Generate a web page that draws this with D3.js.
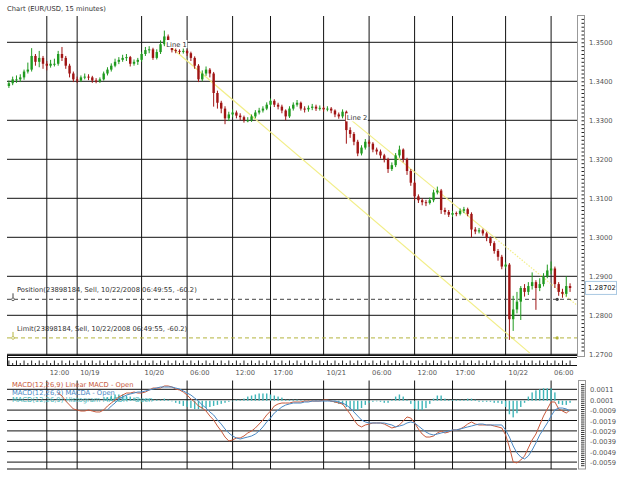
<!DOCTYPE html>
<html>
<head>
<meta charset="utf-8">
<script src="https://cdn.jsdelivr.net/npm/d3@7"></script>
<style>
  body { margin: 0; background: #fff; }
  svg text { font-family: "DejaVu Sans", Verdana, sans-serif; font-size: 6.75px; }
</style>
</head>
<body>
<svg id="chart" width="625" height="479"></svg>
<script>
// EUR/USD, one candle per 30 minutes, 10/17 .. 10/22 2008
const opens = [
  1.3388, 1.3395, 1.3405, 1.3405, 1.3410, 1.3425, 1.3430, 1.3465, 1.3450, 1.3460,
  1.3445, 1.3440, 1.3445, 1.3445, 1.3470, 1.3460, 1.3440, 1.3420, 1.3405, 1.3402,
  1.3410, 1.3412, 1.3410, 1.3402, 1.3400, 1.3405, 1.3420, 1.3430, 1.3440, 1.3450,
  1.3455, 1.3460, 1.3462, 1.3445, 1.3450, 1.3455, 1.3470, 1.3480, 1.3482, 1.3460,
  1.3475, 1.3495, 1.3515, 1.3495, 1.3480, 1.3478, 1.3476, 1.3478, 1.3472, 1.3460,
  1.3440, 1.3405, 1.3420, 1.3430, 1.3420, 1.3370, 1.3345, 1.3330, 1.3305, 1.3315,
  1.3320, 1.3312, 1.3308, 1.3300, 1.3300, 1.3310, 1.3320, 1.3325, 1.3330, 1.3340,
  1.3350, 1.3340, 1.3335, 1.3325, 1.3310, 1.3330, 1.3340, 1.3345, 1.3330, 1.3328,
  1.3332, 1.3335, 1.3330, 1.3332, 1.3328, 1.3330, 1.3325, 1.3315, 1.3310, 1.3322,
  1.3275, 1.3265, 1.3245, 1.3215, 1.3230, 1.3245, 1.3240, 1.3225, 1.3220, 1.3210,
  1.3200, 1.3175, 1.3185, 1.3210, 1.3225, 1.3200, 1.3170, 1.3140, 1.3105, 1.3095,
  1.3090, 1.3088, 1.3095, 1.3115, 1.3120, 1.3070, 1.3065, 1.3058, 1.3062, 1.3060,
  1.3068, 1.3072, 1.3060, 1.3020, 1.3015, 1.3018, 1.3010, 1.2998, 1.2985, 1.2965,
  1.2950, 1.2925, 1.2930, 1.2790, 1.2815, 1.2835, 1.2870, 1.2860, 1.2875, 1.2885,
  1.2870, 1.2880, 1.2900, 1.2915, 1.2920, 1.2880, 1.2860, 1.2855, 1.2875
];
const highs = [
  1.3402, 1.3412, 1.3415, 1.3418, 1.3430, 1.3448, 1.3485, 1.3470, 1.3478, 1.3465,
  1.3452, 1.3455, 1.3458, 1.3478, 1.3488, 1.3465, 1.3445, 1.3425, 1.3412, 1.3415,
  1.3420, 1.3418, 1.3414, 1.3408, 1.3410, 1.3425, 1.3436, 1.3446, 1.3458, 1.3462,
  1.3468, 1.3470, 1.3465, 1.3456, 1.3460, 1.3476, 1.3488, 1.3490, 1.3486, 1.3482,
  1.3505, 1.3530, 1.3520, 1.3498, 1.3484, 1.3482, 1.3484, 1.3482, 1.3476, 1.3464,
  1.3444, 1.3428, 1.3438, 1.3434, 1.3424, 1.3376, 1.3350, 1.3336, 1.3322, 1.3328,
  1.3325, 1.3318, 1.3312, 1.3308, 1.3315, 1.3326, 1.3332, 1.3336, 1.3346, 1.3356,
  1.3354, 1.3345, 1.3340, 1.3328, 1.3336, 1.3346, 1.3352, 1.3348, 1.3336, 1.3338,
  1.3342, 1.3340, 1.3338, 1.3336, 1.3336, 1.3334, 1.3328, 1.3320, 1.3328, 1.3325,
  1.3282, 1.3270, 1.3250, 1.3236, 1.3252, 1.3250, 1.3244, 1.3230, 1.3225, 1.3214,
  1.3204, 1.3192, 1.3216, 1.3235, 1.3228, 1.3204, 1.3175, 1.3145, 1.3110, 1.3100,
  1.3096, 1.3102, 1.3122, 1.3130, 1.3124, 1.3076, 1.3070, 1.3068, 1.3066, 1.3074,
  1.3078, 1.3076, 1.3064, 1.3026, 1.3024, 1.3022, 1.3014, 1.3002, 1.2990, 1.2970,
  1.2955, 1.2936, 1.2934, 1.2850, 1.2860, 1.2875, 1.2880, 1.2885, 1.2910, 1.2890,
  1.2895, 1.2908, 1.2930, 1.2938, 1.2925, 1.2885, 1.2868, 1.2900, 1.2882
];
const lows = [
  1.3383, 1.3390, 1.3396, 1.3398, 1.3404, 1.3420, 1.3425, 1.3440, 1.3436, 1.3432,
  1.3428, 1.3435, 1.3438, 1.3440, 1.3452, 1.3432, 1.3410, 1.3398, 1.3396, 1.3398,
  1.3405, 1.3403, 1.3396, 1.3395, 1.3396, 1.3402, 1.3415, 1.3425, 1.3436, 1.3444,
  1.3450, 1.3452, 1.3438, 1.3440, 1.3442, 1.3450, 1.3465, 1.3472, 1.3455, 1.3456,
  1.3470, 1.3490, 1.3488, 1.3474, 1.3472, 1.3470, 1.3471, 1.3465, 1.3452, 1.3432,
  1.3398, 1.3400, 1.3414, 1.3410, 1.3335, 1.3330, 1.3318, 1.3290, 1.3298, 1.3308,
  1.3305, 1.3300, 1.3294, 1.3295, 1.3296, 1.3305, 1.3315, 1.3320, 1.3326, 1.3335,
  1.3334, 1.3328, 1.3318, 1.3300, 1.3306, 1.3325, 1.3335, 1.3325, 1.3320, 1.3322,
  1.3326, 1.3324, 1.3325, 1.3322, 1.3323, 1.3318, 1.3308, 1.3304, 1.3305, 1.3240,
  1.3255, 1.3236, 1.3208, 1.3210, 1.3225, 1.3232, 1.3218, 1.3212, 1.3202, 1.3192,
  1.3165, 1.3170, 1.3180, 1.3204, 1.3192, 1.3160, 1.3132, 1.3095, 1.3088, 1.3082,
  1.3080, 1.3084, 1.3090, 1.3110, 1.3060, 1.3058, 1.3052, 1.3052, 1.3054, 1.3056,
  1.3062, 1.3054, 1.3000, 1.3008, 1.3010, 1.3004, 1.2990, 1.2978, 1.2958, 1.2940,
  1.2918, 1.2920, 1.2737, 1.2760, 1.2805, 1.2788, 1.2848, 1.2852, 1.2866, 1.2814,
  1.2862, 1.2874, 1.2895, 1.2905, 1.2870, 1.2850, 1.2845, 1.2848, 1.2860
];
const closes = [
  1.3395, 1.3405, 1.3405, 1.3410, 1.3425, 1.3430, 1.3465, 1.3450, 1.3460, 1.3445,
  1.3440, 1.3445, 1.3445, 1.3470, 1.3460, 1.3440, 1.3420, 1.3405, 1.3402, 1.3410,
  1.3412, 1.3410, 1.3402, 1.3400, 1.3405, 1.3420, 1.3430, 1.3440, 1.3450, 1.3455,
  1.3460, 1.3462, 1.3445, 1.3450, 1.3455, 1.3470, 1.3480, 1.3482, 1.3460, 1.3475,
  1.3495, 1.3515, 1.3495, 1.3480, 1.3478, 1.3476, 1.3478, 1.3472, 1.3460, 1.3440,
  1.3405, 1.3420, 1.3430, 1.3420, 1.3370, 1.3345, 1.3330, 1.3305, 1.3315, 1.3320,
  1.3312, 1.3308, 1.3300, 1.3300, 1.3310, 1.3320, 1.3325, 1.3330, 1.3340, 1.3350,
  1.3340, 1.3335, 1.3325, 1.3310, 1.3330, 1.3340, 1.3345, 1.3330, 1.3328, 1.3332,
  1.3335, 1.3330, 1.3332, 1.3328, 1.3330, 1.3325, 1.3315, 1.3310, 1.3322, 1.3275,
  1.3265, 1.3245, 1.3215, 1.3230, 1.3245, 1.3240, 1.3225, 1.3220, 1.3210, 1.3200,
  1.3175, 1.3185, 1.3210, 1.3225, 1.3200, 1.3170, 1.3140, 1.3105, 1.3095, 1.3090,
  1.3088, 1.3095, 1.3115, 1.3120, 1.3070, 1.3065, 1.3058, 1.3062, 1.3060, 1.3068,
  1.3072, 1.3060, 1.3020, 1.3015, 1.3018, 1.3010, 1.2998, 1.2985, 1.2965, 1.2950,
  1.2925, 1.2930, 1.2790, 1.2815, 1.2835, 1.2870, 1.2860, 1.2875, 1.2885, 1.2870,
  1.2880, 1.2900, 1.2915, 1.2920, 1.2880, 1.2860, 1.2855, 1.2875, 1.2870
];

// MACD(12,26,9): linear MACD starts at bar 13, signal and histogram at bar 26
const macdFirstBar = 13;
const macdLine = [
  0.00074, 0.00046, -0.00003, -0.00041, -0.00079, -0.00089, -0.00099, -0.00099, -0.00089, -0.00099,
  -0.00108, -0.00108, -0.00089, -0.00051, -0.00022, 0.00007, 0.00036, 0.00055, 0.00074, 0.00074,
  0.00084, 0.00074, 0.00074, 0.00084, 0.00103, 0.00122, 0.00122, 0.00122, 0.00142, 0.00142,
  0.00132, 0.00113, 0.00103, 0.00084, 0.00055, 0.00017, -0.00012, -0.00051, -0.00070, -0.00099,
  -0.00147, -0.00185, -0.00243, -0.00291, -0.00349, -0.00387, -0.00377, -0.00358, -0.00358, -0.00339,
  -0.00310, -0.00291, -0.00262, -0.00224, -0.00185, -0.00137, -0.00099, -0.00051, -0.00031, -0.00022,
  -0.00022, -0.00022, -0.00012, -0.00012, -0.00012, -0.00003, -0.00003, -0.00003, -0.00003, -0.00003,
  0.00007, 0.00007, -0.00003, -0.00012, -0.00022, -0.00031, -0.00079, -0.00127, -0.00185, -0.00233,
  -0.00252, -0.00233, -0.00224, -0.00214, -0.00214, -0.00214, -0.00224, -0.00243, -0.00262, -0.00252,
  -0.00233, -0.00195, -0.00156, -0.00166, -0.00214, -0.00272, -0.00320, -0.00349, -0.00349, -0.00339,
  -0.00310, -0.00291, -0.00310, -0.00301, -0.00281, -0.00281, -0.00272, -0.00252, -0.00224, -0.00204,
  -0.00224, -0.00233, -0.00233, -0.00233, -0.00233, -0.00243, -0.00252, -0.00262, -0.00329, -0.00445,
  -0.00589, -0.00598, -0.00570, -0.00531, -0.00454, -0.00377, -0.00320, -0.00233, -0.00147, -0.00079,
  -0.00012, -0.00012, -0.00079, -0.00099, -0.00118, -0.00089
];
const signalFirstBar = 26;
const signalLine = [
  -0.00089, -0.00051, -0.00022, 0.00017, 0.00036, 0.00055, 0.00065, 0.00074, 0.00084, 0.00084,
  0.00094, 0.00103, 0.00113, 0.00122, 0.00132, 0.00132, 0.00132, 0.00132, 0.00122, 0.00113,
  0.00094, 0.00074, 0.00055, 0.00026, -0.00003, -0.00041, -0.00070, -0.00108, -0.00137, -0.00185,
  -0.00224, -0.00272, -0.00310, -0.00339, -0.00358, -0.00368, -0.00358, -0.00349, -0.00339, -0.00320,
  -0.00291, -0.00252, -0.00204, -0.00166, -0.00118, -0.00089, -0.00060, -0.00041, -0.00031, -0.00022,
  -0.00022, -0.00022, -0.00012, -0.00012, -0.00003, -0.00003, -0.00003, -0.00003, -0.00003, -0.00003,
  -0.00003, -0.00012, -0.00022, -0.00041, -0.00070, -0.00108, -0.00147, -0.00185, -0.00204, -0.00214,
  -0.00214, -0.00214, -0.00214, -0.00214, -0.00224, -0.00233, -0.00252, -0.00243, -0.00233, -0.00214,
  -0.00204, -0.00214, -0.00243, -0.00272, -0.00301, -0.00320, -0.00329, -0.00320, -0.00310, -0.00301,
  -0.00291, -0.00281, -0.00281, -0.00272, -0.00262, -0.00252, -0.00243, -0.00233, -0.00224, -0.00224,
  -0.00233, -0.00233, -0.00233, -0.00233, -0.00233, -0.00281, -0.00349, -0.00435, -0.00502, -0.00541,
  -0.00560, -0.00531, -0.00474, -0.00406, -0.00329, -0.00272, -0.00214, -0.00147, -0.00089, -0.00070,
  -0.00070, -0.00079, -0.00099
];
const histFirstBar = 26;
const histogram = [
  0.0003, 0.0005, 0.0006, 0.0006, 0.0006, 0.0005, 0.0004, 0.0003, 0.0002, 0.0001,
  0.0002, 0.0002, 0.0001, 0.0001, 0.0001, 0.0002, 0.0001, 0, -0.0002, -0.0003,
  -0.0005, -0.0006, -0.0007, -0.0008, -0.0008, -0.0008, -0.0007, -0.0006, -0.0005, -0.0004,
  -0.0003, -0.0002, -0.0001, 0, 0.0001, 0.0001, 0.0002, 0.0004, 0.0005, 0.0006,
  0.0007, 0.0007, 0.0007, 0.0006, 0.0005, 0.0004, 0.0003, 0.0001, 0.0001, 0.0001,
  0.0001, 0.00005, 0.00005, 0.00005, 0.00005, 0.00005, 0.00005, 0.00005, 0.00005, -0.0001,
  -0.0002, -0.0003, -0.0004, -0.0006, -0.0008, -0.0009, -0.0009, -0.0007, -0.0004, -0.0002,
  -0.0001, 0, -0.0001, -0.0002, -0.0002, 0.0001, 0.0004, 0.0006, 0.0004, 0.0001,
  -0.0003, -0.0008, -0.0009, -0.0009, -0.0007, -0.0003, 0.0002, 0.0005, 0.0005, 0.0002,
  0.0001, 0.0001, 0.0001, 0.0001, 0.0001, 0.0002, 0.0002, 0.0001, -0.0001, -0.0001,
  -0.0001, -0.0001, -0.0002, -0.0002, -0.0003, -0.0006, -0.0013, -0.0016, -0.0012, -0.0006,
  -0.0002, 0.0004, 0.0008, 0.0010, 0.0011, 0.0012, 0.0012, 0.0012, 0.0008, -0.0003,
  -0.0004, -0.0004, -0.0002
];

// axis labels
const priceTicks = [1.35, 1.34, 1.33, 1.32, 1.31, 1.30, 1.29, 1.28, 1.27];
const macdTicks = [0.0011, 0.0001, -0.0009, -0.0019, -0.0029, -0.0039, -0.0049, -0.0059];
const timeLabels = ['12:00', '10/19', '10/20', '06:00', '12:00', '17:00', '10/21', '06:00', '12:00', '17:00', '10/22', '06:00'];
const timeLabelBars = [10, 18, 35, 47, 59, 69, 83, 95, 107, 117, 131, 143];

// trend lines (bar index, price): drawn segment, then dotted extension
const line1 = [{ bar: 41, price: 1.3502 }, { bar: 137.4, price: 1.2703 }];
const line2 = [{ bar: 88.6, price: 1.3314 }, { bar: 128.5, price: 1.2996 }];
const line2Ext = [{ bar: 128.5, price: 1.2996 }, { bar: 149.8, price: 1.2826 }];

// open order
const lastPrice = 1.28702;
const orderBar = 144.6;
const positionPrice = 1.2841;
const limitPrice = 1.2742;
const positionText = 'Position(23898184, Sell, 10/22/2008 06:49:55, -60.2)';
const limitText = 'Limit(23898184, Sell, 10/22/2008 06:49:55, -60.2)';

// layout
const LEFT = 7, RIGHT = 577;
const PRICE_TOP = 16, PRICE_BOTTOM = 356;
const MACD_TOP = 380.5, MACD_BOTTOM = 469;

const svg = d3.select('#chart');

const x = d3.scaleLinear().domain([35, 131]).range([141.6, 505.6]);
const yPrice = d3.scaleLinear().domain([1.27, 1.35]).range([354.3, 42.3]);
const yMacd = d3.scaleLinear().domain([-0.0059, 0.0011]).range([462.1, 389.3]);

// title
svg.append('text').attr('x', 7).attr('y', 11).attr('fill', '#333')
    .text('Chart (EUR/USD, 15 minutes)');

// price panel grid
svg.append('g').selectAll('line').data(priceTicks).join('line')
    .attr('x1', LEFT).attr('x2', RIGHT)
    .attr('y1', d => yPrice(d)).attr('y2', d => yPrice(d))
    .attr('stroke', '#111').attr('stroke-width', 1);

svg.append('g').selectAll('line').data(timeLabelBars).join('line')
    .attr('x1', d => x(d)).attr('x2', d => x(d))
    .attr('y1', PRICE_TOP).attr('y2', PRICE_BOTTOM)
    .attr('stroke', '#111').attr('stroke-width', 1);

// trend lines
const trend = d3.line().x(d => x(d.bar)).y(d => yPrice(d.price));
[[line1, null], [line2, null], [line2Ext, '1.5,1.5']].forEach(function(l) {
    svg.append('path').datum(l[0])
        .attr('d', trend)
        .attr('fill', 'none')
        .attr('stroke', '#f2ee88')
        .attr('stroke-width', 1.2)
        .attr('stroke-dasharray', l[1]);
});

// order lines
function orderLine(price, color, label) {
    const y = yPrice(price);
    svg.append('line')
        .attr('x1', LEFT).attr('x2', RIGHT).attr('y1', y).attr('y2', y)
        .attr('stroke', color).attr('stroke-width', 1)
        .attr('stroke-dasharray', '4,3');
    svg.append('line')
        .attr('x1', 13).attr('x2', 13).attr('y1', y - 6).attr('y2', y - 1.5)
        .attr('stroke', color).attr('stroke-width', 1);
    svg.append('circle').attr('cx', 13).attr('cy', y).attr('r', 1.4)
        .attr('fill', '#fff').attr('stroke', color).attr('stroke-width', 0.8);
    svg.append('circle').attr('cx', x(orderBar)).attr('cy', y).attr('r', 1.6)
        .attr('fill', color);
    svg.append('text').attr('x', 17).attr('y', y - 7).attr('fill', '#333').text(label);
}
orderLine(positionPrice, '#444', positionText);
orderLine(limitPrice, '#b4b43c', limitText);

// candles
const bars = d3.range(closes.length);
const upColor = '#1f9a1f', downColor = '#a01414';
const candles = svg.append('g');
candles.selectAll('line').data(bars).join('line')
    .attr('x1', i => x(i)).attr('x2', i => x(i))
    .attr('y1', i => yPrice(highs[i])).attr('y2', i => yPrice(lows[i]))
    .attr('stroke', i => closes[i] >= opens[i] ? upColor : downColor)
    .attr('stroke-width', 1);
candles.selectAll('rect').data(bars).join('rect')
    .attr('x', i => x(i) - 1.2)
    .attr('width', 2.4)
    .attr('y', i => yPrice(Math.max(opens[i], closes[i])))
    .attr('height', i => Math.max(1, Math.abs(yPrice(opens[i]) - yPrice(closes[i]))))
    .attr('fill', i => closes[i] >= opens[i] ? upColor : downColor);

// trend line labels
[[line1, 'Line 1'], [line2, 'Line 2']].forEach(function(p) {
    const lx = x(p[0][0].bar) + 2, ly = yPrice(p[0][0].price) + 5;
    svg.append('rect').attr('x', lx - 1).attr('y', ly - 6.5).attr('width', 22).attr('height', 8)
        .attr('fill', '#fff');
    svg.append('text').attr('x', lx).attr('y', ly).attr('fill', '#333').text(p[1]);
});

// price axis box
const priceBox = svg.append('g');
priceBox.append('rect').attr('x', 577.5).attr('y', 15.5).attr('width', 7).attr('height', 341)
    .attr('fill', '#fff').attr('stroke', '#999');
const minorPrice = d3.ticks(yPrice.invert(PRICE_BOTTOM - 2), yPrice.invert(PRICE_TOP + 2), 85);
priceBox.append('g').attr('transform', 'translate(584,0)')
    .call(d3.axisLeft(yPrice).tickValues(minorPrice).tickSize(2.5).tickFormat(''))
    .call(g => g.select('.domain').remove())
    .call(g => g.selectAll('line').attr('stroke', '#222'))
    .call(g => g.selectAll('text').remove());
priceBox.selectAll('text.pl').data(priceTicks).join('text')
    .attr('class', 'pl')
    .attr('x', 589).attr('y', d => yPrice(d) + 2.4).attr('fill', '#555')
    .text(d => d.toFixed(4));

// current price tag
const ly0 = yPrice(lastPrice);
svg.append('rect').attr('x', 585.5).attr('y', ly0 - 6.5).attr('width', 31).attr('height', 13)
    .attr('fill', '#fff').attr('stroke', '#a9c8e2');
svg.append('text').attr('x', 588).attr('y', ly0 + 2.5).attr('fill', '#111').text(lastPrice.toFixed(5));

// time strip
const strip = svg.append('g');
strip.append('line').attr('x1', LEFT).attr('x2', RIGHT).attr('y1', 355.5).attr('y2', 355.5).attr('stroke', '#111');
strip.append('line').attr('x1', LEFT).attr('x2', RIGHT).attr('y1', 357.5).attr('y2', 357.5).attr('stroke', '#111');
strip.append('line').attr('x1', LEFT).attr('x2', RIGHT).attr('y1', 365.5).attr('y2', 365.5).attr('stroke', '#111');
strip.append('line').attr('x1', 7.5).attr('x2', 7.5).attr('y1', 355.5).attr('y2', 365.5).attr('stroke', '#111');
strip.selectAll('line.tk').data(bars).join('line')
    .attr('class', 'tk')
    .attr('x1', i => x(i)).attr('x2', i => x(i))
    .attr('y1', 365.5).attr('y2', i => i % 2 === 0 ? 360.5 : 363)
    .attr('stroke', '#222');
strip.selectAll('text.tl').data(timeLabels).join('text')
    .attr('class', 'tl')
    .attr('x', (d, i) => x(timeLabelBars[i]) + 3).attr('y', 375)
    .attr('fill', '#555').text(d => d);

// MACD panel grid
svg.append('g').selectAll('line').data(macdTicks).join('line')
    .attr('x1', LEFT).attr('x2', RIGHT)
    .attr('y1', d => yMacd(d)).attr('y2', d => yMacd(d))
    .attr('stroke', '#111');
svg.append('line').attr('x1', LEFT).attr('x2', RIGHT).attr('y1', MACD_BOTTOM).attr('y2', MACD_BOTTOM)
    .attr('stroke', '#111');
svg.append('g').selectAll('line').data(timeLabelBars).join('line')
    .attr('x1', d => x(d)).attr('x2', d => x(d))
    .attr('y1', MACD_TOP).attr('y2', MACD_BOTTOM)
    .attr('stroke', '#111');

// MACD legend
const macdColor = '#c85a3c', signalColor = '#4a88c4', histColor = '#3fb5b8';
[['MACD(12,26,9) Linear MACD - Open', macdColor, 386.5],
 ['MACD(12,26,9) MACDA - Open', signalColor, 394.5],
 ['MACD(12,26,9) Histogram MACDH - Open', histColor, 402]].forEach(function(t) {
    svg.append('text').attr('x', 12).attr('y', t[2]).attr('fill', t[1]).text(t[0]);
});

// histogram
svg.append('g').selectAll('rect').data(histogram).join('rect')
    .attr('x', (d, i) => x(histFirstBar + i) - 0.7)
    .attr('width', 1.4)
    .attr('y', d => Math.min(yMacd(0), yMacd(d)))
    .attr('height', d => Math.max(0.6, Math.abs(yMacd(d) - yMacd(0))))
    .attr('fill', histColor);

// MACD lines
const macdPath = d3.line().x(d => x(d.bar)).y(d => yMacd(d.v));
svg.append('path')
    .datum(macdLine.map((v, i) => ({ bar: macdFirstBar + i, v: v })))
    .attr('d', macdPath).attr('fill', 'none').attr('stroke', macdColor).attr('stroke-width', 1);
svg.append('path')
    .datum(signalLine.map((v, i) => ({ bar: signalFirstBar + i, v: v })))
    .attr('d', macdPath).attr('fill', 'none').attr('stroke', signalColor).attr('stroke-width', 1);

// MACD axis box
const macdBox = svg.append('g');
macdBox.append('rect').attr('x', 578.5).attr('y', 380.5).attr('width', 7).attr('height', 88.5)
    .attr('fill', '#fff').attr('stroke', '#999');
const minorMacd = d3.ticks(yMacd.invert(MACD_BOTTOM - 2), yMacd.invert(MACD_TOP + 2), 40);
macdBox.append('g').attr('transform', 'translate(584.5,0)')
    .call(d3.axisLeft(yMacd).tickValues(minorMacd).tickSize(3.5).tickFormat(''))
    .call(g => g.select('.domain').remove())
    .call(g => g.selectAll('line').attr('stroke', '#333'))
    .call(g => g.selectAll('text').remove());
macdBox.selectAll('text.ml').data(macdTicks).join('text')
    .attr('class', 'ml')
    .attr('x', 590).attr('y', d => yMacd(d) + 3).attr('fill', '#555')
    .text(d => d.toFixed(4));
</script>
</body>
</html>
